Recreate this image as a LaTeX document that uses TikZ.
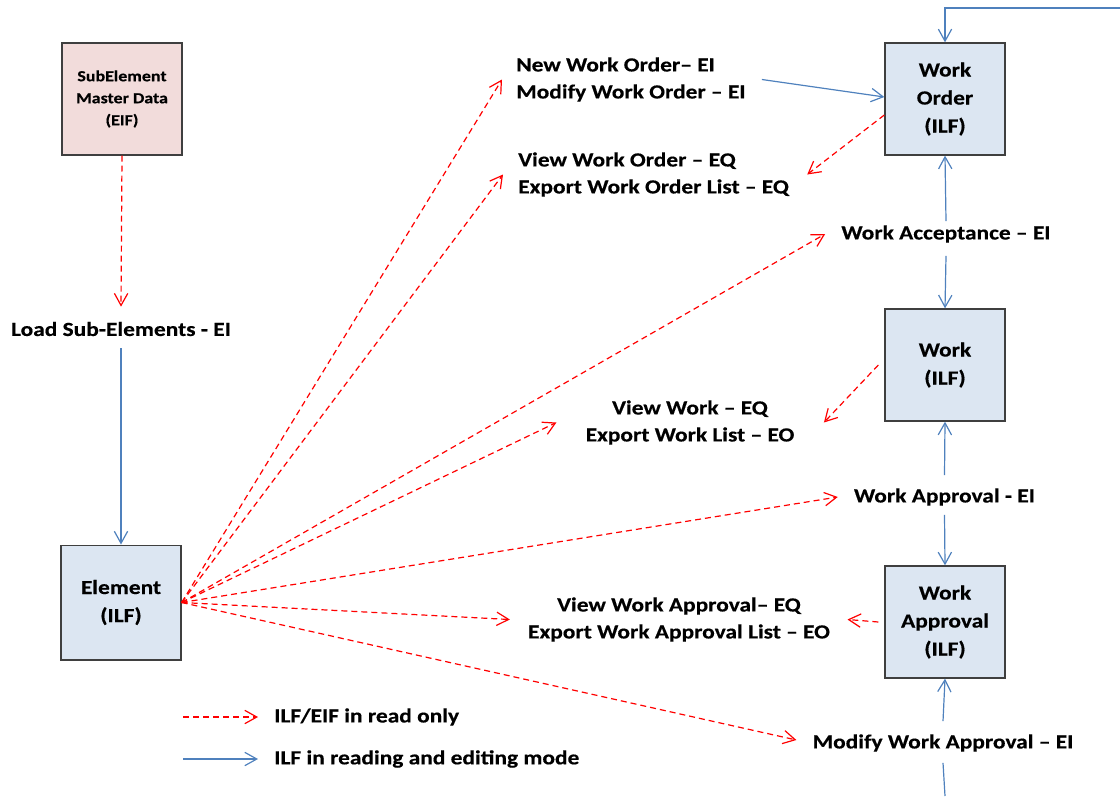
\documentclass[tikz,border=0pt]{standalone}
\usepackage{fontspec}
\setmainfont{Carlito}[FakeStretch=1.17, BoldFeatures={FakeBold=0.4}]
\usetikzlibrary{arrows.meta}
\definecolor{lineblue}{HTML}{4F81BD}
\definecolor{boxblue}{HTML}{DCE6F2}
\definecolor{boxpink}{HTML}{F2DCDB}
\definecolor{boxborder}{HTML}{3F3F3F}
\definecolor{dashred}{HTML}{FF0000}
\begin{document}
\begin{tikzpicture}[x=0.75pt,y=-0.75pt,
  box/.style={draw=boxborder, line width=1pt, fill=boxblue, minimum width=90pt, minimum height=84pt,
    align=center, inner sep=0pt, font=\fontsize{15}{21}\selectfont\bfseries,
    execute at begin node={\rule{0pt}{19pt}}},
  pinkbox/.style={box, fill=boxpink, font=\fontsize{11.5}{16.5}\selectfont\bfseries,
    execute at begin node={\rule{0pt}{13.5pt}}},
  lbl/.style={inner sep=0pt, font=\fontsize{15}{20.25}\selectfont\bfseries},
  editarrow/.style={draw=lineblue, line width=0.9pt, -{Straight Barb[length=9pt,width=10pt]}},
  editline/.style={draw=lineblue, line width=0.9pt},
  readarrow/.style={draw=dashred, line width=0.9pt, dash pattern=on 4.5pt off 3pt,
    -{Straight Barb[length=9pt,width=10pt]}},
]
\useasboundingbox (0,0) rectangle (1120,796);

% boxes
\node[pinkbox] (se) at (122,99) {SubElement\\Master Data\\(EIF)};
\node[box, minimum height=86pt] (el) at (121,602.5) {Element\\(ILF)};
\node[box] (wo) at (945,99) {Work\\Order\\(ILF)};
\node[box] (wk) at (945,365) {Work\\(ILF)};
\node[box] (wa) at (945,622) {Work\\Approval\\(ILF)};

% labels
\node[lbl] (load) at (121,329) {Load Sub-Elements - EI};
\node[lbl, anchor=west, align=left] (n1) at (516,79.5) {New Work Order– EI\\Modify Work Order – EI};
\node[lbl, anchor=west, align=left] (n2) at (518,174.5) {View Work Order – EQ\\Export Work Order List – EQ};
\node[lbl] (n3) at (946,234) {Work Acceptance – EI};
\node[lbl, align=center] (n4) at (690,422.5) {View Work – EQ\\Export Work List – EO};
\node[lbl] (n5) at (944.5,497) {Work Approval - EI};
\node[lbl, align=center] (n6) at (679,619.5) {View Work Approval– EQ\\Export Work Approval List – EO};
\node[lbl] (n7) at (943,743) {Modify Work Approval – EI};

% legend
\node[lbl, anchor=west] (leg1) at (274,717) {ILF/EIF in read only};
\node[lbl, anchor=west] (leg2) at (274,759) {ILF in reading and editing mode};
\coordinate (leg1s) at (183,717);
\coordinate (leg2s) at (183,759);
\draw[readarrow] (leg1s) -- ([xshift=-12pt]leg1.west);
\draw[editarrow] (leg2s) -- ([xshift=-12pt]leg2.west);

% free ends
\coordinate (topin) at (1120,8);
\coordinate (botout) at (945,796);

% blue connectors
\draw[editarrow] (topin) -| (wo.north);
\draw[editarrow] ([xshift=12pt]n1.east) -- ([yshift=1.5pt]wo.west);
\draw[editarrow] ([yshift=3pt]n3.north) -- (wo.south);
\draw[editarrow] ([yshift=-9.75pt]n3.south) -- (wk.north);
\draw[editarrow] ([yshift=9.75pt]n5.north) -- (wk.south);
\draw[editarrow] ([yshift=-6.75pt]n5.south) -- (wa.north);
\draw[editarrow] ([yshift=9.75pt]n7.north) -- (wa.south);
\draw[editline] ([yshift=-8.25pt]n7.south) -- (botout);
\draw[editarrow] ([yshift=-9pt]load.south) -- (el.north);

% red dashed connectors
\draw[readarrow] (se.south) -- ([yshift=11.25pt]load.north);
\draw[readarrow] (el.east) -- ([xshift=-10.5pt]n1.west);
\draw[readarrow] (el.east) -- ([xshift=-11.25pt]n2.west);
\draw[readarrow] (el.east) -- ([xshift=-12pt]n3.west);
\draw[readarrow] (el.east) -- ([xshift=-21.75pt]n4.west);
\draw[readarrow] (el.east) -- ([xshift=-12pt]n5.west);
\draw[readarrow] (el.east) -- ([xshift=-13.5pt]n6.west);
\draw[readarrow] (el.east) -- ([xshift=-12pt,yshift=2.25pt]n7.west);
\draw[readarrow] ([yshift=-12pt]wo.west) -- ([xshift=13.5pt]n2.east);
\draw[readarrow] ([xshift=-4.5pt]wk.west) -- ([xshift=22pt]n4.east);
\draw[readarrow] ([xshift=-4.5pt]wa.west) -- ([xshift=13pt]n6.east);
\end{tikzpicture}
\end{document}
